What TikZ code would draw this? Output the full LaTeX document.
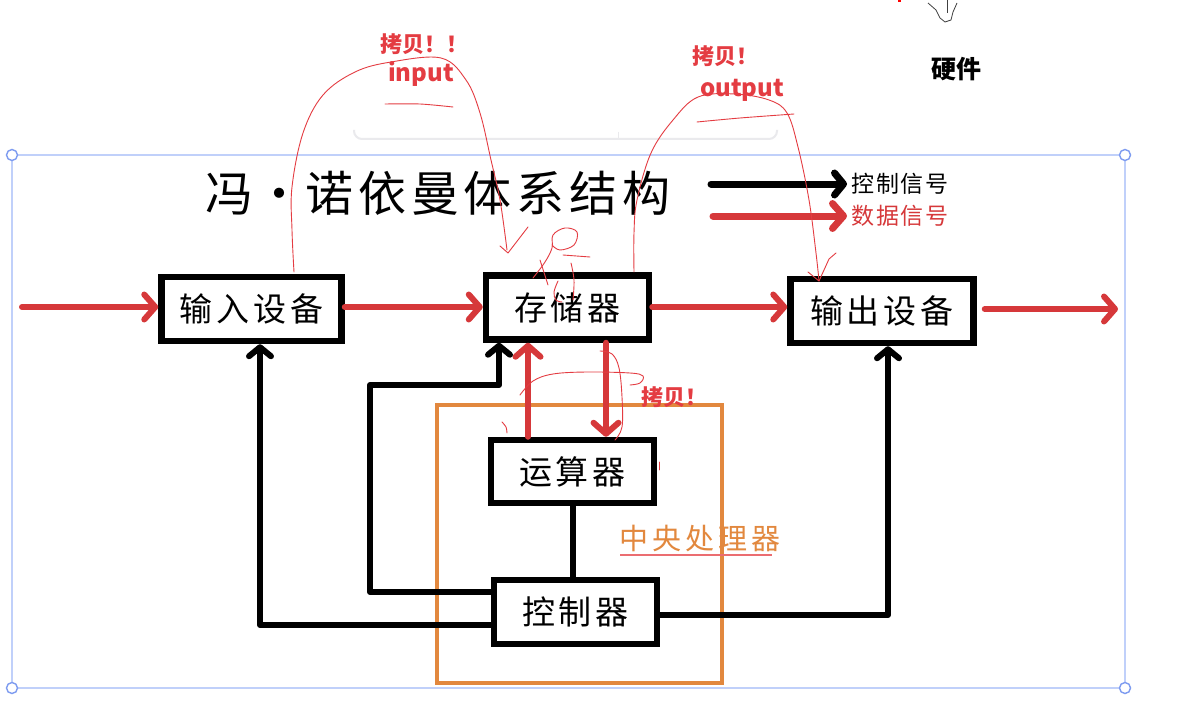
\documentclass[tikz,border=0pt]{standalone}
\usepackage{fontspec}
\newfontfamily\cjk{Noto Sans CJK SC}
\usetikzlibrary{arrows.meta,calc}
\definecolor{datared}{RGB}{214,56,58}
\definecolor{annored}{RGB}{228,60,66}
\definecolor{cpuorange}{RGB}{226,136,62}
\definecolor{selblue}{RGB}{192,208,250}
\definecolor{handleblue}{RGB}{125,155,240}
\definecolor{cardgray}{RGB}{234,234,237}
\begin{document}
\begin{tikzpicture}[x=1pt,y=-1pt,
  box/.style={draw=black, line width=6.5pt, fill=white, inner sep=0pt,
    font=\cjk\fontsize{33}{36}\selectfont\addfontfeature{LetterSpace=12}},
  ctrlline/.style={draw=black, line width=6pt, line join=round, line cap=round},
  ctrlarrow/.style={ctrlline, -{Straight Barb[length=9pt,width=22pt,round]}},
  dataarrow/.style={draw=datared, line width=6pt, line cap=round,
    -{Straight Barb[length=11pt,width=25pt,round]}},
  anno/.style={draw=annored, line width=0.9pt, line cap=round, line join=round},
  annotext/.style={text=annored, font=\cjk\bfseries\fontsize{22}{24}\selectfont, inner sep=0pt},
  legendtext/.style={font=\cjk\fontsize{23}{25}\selectfont\addfontfeature{LetterSpace=8}, inner sep=0pt, anchor=west},
  handle/.style={draw=handleblue, fill=white, line width=1.4pt}
]
\useasboundingbox (0,0) rectangle (1180,706);
\fill[white] (0,0) rectangle (1180,706);

% faint card edge behind (screenshot residue)
\draw[cardgray, line width=2pt, rounded corners=8pt] (354,130) -- (354,139) -- (777,139) -- (777,130);
\draw[cardgray, line width=1pt] (618,132) -- (618,139);

% selection frame
\draw[selblue, line width=2.2pt] (12,155) rectangle (1125,688);
\foreach \p/\n in {{(12,155)}/h1,{(1125,155)}/h2,{(12,688)}/h3,{(1125,688)}/h4}
  \node[handle, circle, minimum size=11pt, inner sep=0pt] (\n) at \p {};

% CPU frame
\draw[cpuorange, line width=3.2pt] (437,405) rectangle (722,683);

% title and legend
\node[font=\cjk\fontsize{48}{50}\selectfont\addfontfeature{LetterSpace=10}, inner sep=0pt] (title) at (438,193) {冯\hspace{2pt}・\hspace{2pt}诺依曼体系结构};
\node[legendtext] (lgc) at (851,184) {控制信号};
\node[legendtext, text=datared] (lgd) at (851,216) {数据信号};
\coordinate (lgcs) at (711,184);
\coordinate (lgds) at (713,216);
\draw[ctrlarrow, line width=7pt] (lgcs) -- ([xshift=-4pt]lgc.west);
\draw[dataarrow, line width=7pt] (lgds) -- ([xshift=-4pt]lgd.west);

% boxes
\node[box, minimum width=180pt, minimum height=64pt] (inbox) at (251.5,309) {输入设备};
\node[box, minimum width=163pt, minimum height=64pt] (mem) at (567.5,307.5) {存储器};
\node[box, minimum width=183pt, minimum height=64pt] (outdev) at (882,311) {输出设备};
\node[box, minimum width=163pt, minimum height=63pt] (alu) at (572.5,471.5) {运算器};
\node[box, minimum width=163pt, minimum height=64pt] (ctrl) at (575.5,612) {控制器};

\node[text=cpuorange, font=\cjk\fontsize{29}{31}\selectfont\addfontfeature{LetterSpace=14}, inner sep=0pt, anchor=west] (cpu) at (619,538) {中央处理器};
\draw[draw=annored!75, line width=1.2pt] (620,555) -- (772,555);

% helper coordinates
\coordinate (src) at (22,307);
\coordinate (sink) at (1118,309);
\coordinate (cA) at (528,0);
\coordinate (cB) at (606,0);
\coordinate (cIn) at (260,0);
\coordinate (cMem) at (499,0);
\coordinate (cOut) at (888,0);
\coordinate (cLoop) at (370,0);
\coordinate (rTop) at (0,385);
\coordinate (rC1) at (0,592);
\coordinate (rC2) at (0,625);
\coordinate (rC3) at (0,615);
\coordinate (rD) at (0,307);

% data flow
\draw[dataarrow] (src) -- (src -| inbox.west);
\draw[dataarrow] (inbox.east |- rD) -- (mem.west |- rD);
\draw[dataarrow] (mem.east |- rD) -- (outdev.west |- rD);
\draw[dataarrow] ([xshift=8pt]outdev.east |- sink) -- (sink);
\draw[dataarrow] (cA |- alu.north) -- (cA |- mem.south);
\draw[dataarrow] (cB |- mem.south) -- (cB |- alu.north);

% control flow
\draw[ctrlarrow] (ctrl.west |- rC2) -- (cIn |- rC2) -- (cIn |- inbox.south);
\draw[ctrlarrow] (ctrl.west |- rC1) -- (cLoop |- rC1) -- (cLoop |- rTop) -- (cMem |- rTop) -- (cMem |- mem.south);
\draw[ctrlarrow] (ctrl.east |- rC3) -- (cOut |- rC3) -- (cOut |- outdev.south);
\draw[ctrlline, line cap=butt] (alu.south -| 573,0) -- (ctrl.north -| 573,0);

% handwritten annotations
\node[annotext] (cp1) at (424,44) {拷贝！！};
\node[annotext, font=\cjk\bfseries\fontsize{24}{26}\selectfont] (inp) at (421,74) {input};
\node[annotext] (cp2) at (725,56) {拷贝！};
\node[annotext, font=\cjk\bfseries\fontsize{24}{26}\selectfont] (outp) at (742,90) {output};
\node[annotext, font=\cjk\bfseries\fontsize{22}{24}\selectfont] (cp3) at (674,397) {拷贝！};
\node[font=\cjk\bfseries\fontsize{25}{27}\selectfont, inner sep=0pt] (hw) at (956,69) {硬件};

\draw[anno] plot[smooth, tension=0.6] coordinates {(294,272) (292,230) (292,187) (303,133) (323,95) (355,72) (391,62) (441,58) (466,80) (480,113) (491,160) (500,200) (507,250)};
\draw[anno] (500,246) -- (508,253) -- (518,240) -- (528,227);
\draw[anno] plot[smooth, tension=0.5] coordinates {(385,104) (420,104) (453,107)};

\draw[anno] plot[smooth, tension=0.6] coordinates {(634,272) (634,233) (637,200) (651,153) (673,120) (698,97) (735,94) (769,100) (787,113) (798,147) (809,200) (816,253) (819,281)};
\draw[anno] (808,272) -- (819,281) -- (829,259) -- (836,253);
\draw[anno] plot[smooth, tension=0.5] coordinates {(697,122) (740,118) (794,114)};

% scribble over memory box
\draw[anno] plot[smooth, tension=0.6] coordinates {(533,278) (545,262) (552,248) (553,235) (565,228) (577,232) (574,245) (560,250) (552,245)};
\draw[anno] (540,260) -- (548,285);
\draw[anno] (563,255) -- (590,257);
\draw[anno] plot[smooth, tension=0.6] coordinates {(571,263) (574,280) (573,300)};
\draw[anno] plot[smooth, tension=0.6] coordinates {(558,281) (554,292) (556,300) (562,302)};

% copy annotation near ALU
\draw[anno] plot[smooth, tension=0.6] coordinates {(600,351) (612,354) (619,368) (622,397) (622,427) (615,440)};
\draw[anno] plot[smooth, tension=0.6] coordinates {(520,395) (533,381) (553,374) (587,372) (630,373) (643,376) (640,383) (630,385)};
\draw[anno] plot[smooth] coordinates {(502,422) (506,427) (507,433)};
\draw[anno] (659,462) -- (659,470);

% top-right scribble
\draw[black!75, line width=0.8pt, line join=round] (928,3) -- (936,10) -- (940,18) -- (945,22) -- (951,20) -- (953,12) -- (957,3);
\draw[black!75, line width=0.8pt] (947,0) -- (947,13);
\fill[red] (898,0) rectangle (901,2);
\end{tikzpicture}
\end{document}
